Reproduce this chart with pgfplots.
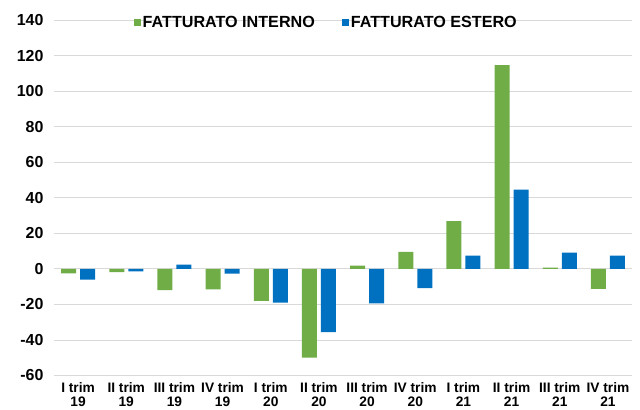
\documentclass[border=0pt]{standalone}
\usepackage{fontspec}
\setmainfont{Liberation Sans}
\usepackage{pgfplots}
\pgfplotsset{compat=1.18}
\definecolor{gr}{HTML}{70AD47}
\definecolor{bl}{HTML}{0070C0}
\definecolor{gridc}{HTML}{D9D9D9}
\begin{document}
\begin{tikzpicture}
\begin{axis}[
  scale only axis,
  width=578bp, height=355.5bp,
  ymin=-60, ymax=140, ytick={-60,-40,...,140},
  xmin=-0.5, xmax=11.5,
  xtick={0,...,11},
  xticklabels={{I trim\\19},{II trim\\19},{III trim\\19},{IV trim\\19},{I trim\\20},{II trim\\20},{III trim\\20},{IV trim\\20},{I trim\\21},{II trim\\21},{III trim\\21},{IV trim\\21}},
  axis line style={draw=none},
  major tick length=0pt,
  ymajorgrids, grid style={gridc, line width=0.8bp},
  /pgf/number format/assume math mode=true,
  yticklabel style={font=\fontsize{16}{18}\selectfont\bfseries, xshift=-7bp},
  xticklabel style={font=\fontsize{13.8}{14}\selectfont\bfseries, align=center, yshift=-4bp},
  ybar=4bp, bar width=15bp,
  legend style={at={(0.471,0.993)}, anchor=center, draw=none, fill=none,
    font=\fontsize{16.2}{18}\selectfont\bfseries, inner sep=0pt,
    nodes={inner sep=2bp}},
  legend columns=2,
  /tikz/every even column/.append style={column sep=25bp},
]
\addplot[fill=gr, draw=none, legend image code/.code={\fill[gr] (0bp,-3.5bp) rectangle (7bp,3.5bp);}] coordinates {
 (0,-2.5) (1,-1.8) (2,-12) (3,-11.6) (4,-18) (5,-50) (6,1.8) (7,9.5) (8,26.8) (9,114.6) (10,0.7) (11,-11.2)};
\addplot[fill=bl, draw=none, legend image code/.code={\fill[bl] (0bp,-3.5bp) rectangle (7bp,3.5bp);}] coordinates {
 (0,-6) (1,-1.4) (2,2.4) (3,-2.7) (4,-19) (5,-35.6) (6,-19.4) (7,-10.8) (8,7.4) (9,44.6) (10,9.1) (11,7.4)};
\legend{FATTURATO INTERNO, FATTURATO ESTERO}
\end{axis}
\pgfresetboundingbox
\useasboundingbox ([shift={(-54bp,-34.5bp)}]current axis.south west) rectangle ++(640bp,410bp);
\end{tikzpicture}
\end{document}
